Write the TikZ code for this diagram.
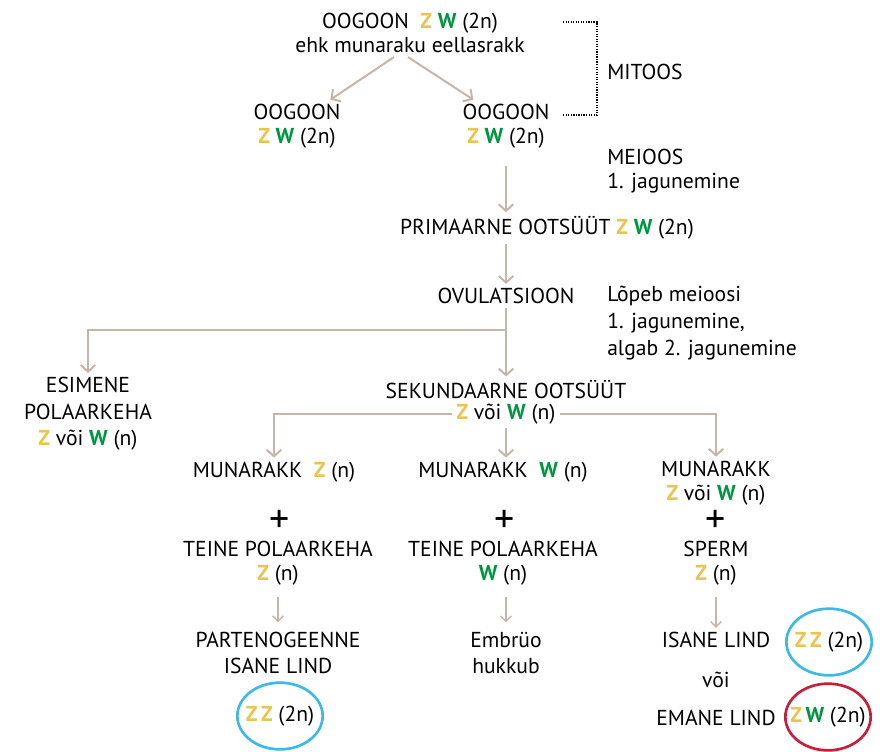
\documentclass[tikz,border=0pt]{standalone}
\usepackage{fontspec}
\setmainfont{PT Sans}
\usetikzlibrary{arrows.meta,shapes.geometric}

\definecolor{zcol}{RGB}{233,197,80}
\definecolor{wcol}{RGB}{0,150,65}
\definecolor{arrowcol}{RGB}{196,182,170}
\definecolor{bluering}{RGB}{60,185,230}
\definecolor{redring}{RGB}{200,30,55}
\newcommand{\Zc}{\textcolor{zcol}{\textbf{Z}}}
\newcommand{\Wc}{\textcolor{wcol}{\textbf{W}}}

\tikzset{
  txt/.style={inner sep=3pt, align=center, font=\fontsize{16.2}{18}\selectfont},
  side/.style={txt, anchor=west, align=left},
  plussign/.style={inner sep=1pt, font=\fontsize{30}{30}\selectfont},
  flow/.style={draw=arrowcol, line width=1.5pt, -{Straight Barb[length=5pt,width=11pt]}},
  smallflow/.style={draw=arrowcol, line width=1.1pt, -{Straight Barb[length=4pt,width=8pt]}},
  ring/.style={ellipse, line width=2pt, inner xsep=-10pt, inner ysep=0pt, minimum width=64pt, minimum height=50pt, font=\fontsize{16.2}{18}\selectfont},
}

\begin{document}
\begin{tikzpicture}[x=0.75pt,y=0.75pt,yscale=-1,xscale=1]
    \useasboundingbox (0,0) rectangle (880,751);

    % Mitoos
    \node[txt] (top) at (410,33) {OOGOON\ \ \Zc\ \Wc\ (2n)\\ehk munaraku eellasrakk};
    \node[txt] (oogL) at (297,126) {OOGOON\\\Zc\ \Wc\ (2n)};
    \node[txt] (oogR) at (506,126) {OOGOON\\\Zc\ \Wc\ (2n)};
    \draw[flow] ([xshift=-12pt]top.south) -- ([xshift=25pt]oogL.north);
    \draw[flow] ([xshift=-1.5pt]top.south) -- ([xshift=-24.5pt]oogR.north);

    \coordinate (mitA) at (563,22);
    \coordinate (mitB) at (563,115);
    \draw[densely dotted, line width=0.9pt] (mitA) -- ++(34,0) |- (mitB);
    \node[side] (mitoos) at (603,72) {MITOOS};

    % Meioos
    \node[side] (meioos) at (603,171) {MEIOOS\\1. jagunemine};
    \node[txt] (prim) at (547,228) {PRIMAARNE OOTSÜÜT \Zc\ \Wc\ (2n)};
    \node[txt] (ovul) at (506,296) {OVULATSIOON};
    \node[side] (lopeb) at (603,323) {Lõpeb meioosi\\[2pt]1. jagunemine,\\[2pt]algab 2. jagunemine};
    \draw[flow, shorten <=10pt] (oogR.south) -- (oogR.south |- prim.north);
    \draw[flow] (prim.south -| ovul.north) -- (ovul.north);

    % Ovulatsioon
    \node[txt] (esim) at (88,414) {ESIMENE\\[2pt]POLAARKEHA\\[2pt]\Zc\ või \Wc\ (n)};
    \node[txt] (sek) at (506,390) {SEKUNDAARNE OOTSÜÜT};
    \node[txt] (sekzw) at (506,414) {\Zc\ või \Wc\ (n)};
    \coordinate (split) at (506,330);
    \draw[flow] (ovul.south) -- (sek.north);
    \draw[flow] (split) -| (esim.north);

    % Teine jagunemine
    \node[txt] (munZ) at (274,472) {MUNARAKK\ \ \Zc\ (n)};
    \node[txt] (munW) at (503,472) {MUNARAKK\ \ \Wc\ (n)};
    \node[txt] (munR) at (716,483) {MUNARAKK\\\Zc\ või \Wc\ (n)};
    \draw[flow] (sekzw.west) -| (munZ.north);
    \draw[flow] (sekzw.east) -| (munR.north);
    \draw[flow] (sekzw.south) -- (sekzw.south |- munW.north);

    \node[plussign] (plusZ) at (280,521) {+};
    \node[plussign] (plusW) at (505,521) {+};
    \node[plussign] (plusR) at (716,521) {+};

    \node[txt] (tpZ) at (278,563) {TEINE POLAARKEHA\\\Zc\ (n)};
    \node[txt] (tpW) at (503,563) {TEINE POLAARKEHA\\\Wc\ (n)};
    \node[txt] (sperm) at (716,563) {SPERM\\\Zc\ (n)};

    % Tulemus
    \node[txt] (part) at (278,653) {PARTENOGEENNE\\[2pt]ISANE LIND};
    \node[txt] (emb) at (506,653) {Embrüo\\[2pt]hukkub};
    \node[txt] (isane) at (716,640) {ISANE LIND};
    \node[txt] (voi) at (716,680) {või};
    \node[txt] (emane) at (716,718) {EMANE LIND};
    \draw[smallflow, shorten <=6pt, shorten >=4pt] (tpZ.south) -- (part.north);
    \draw[smallflow, shorten <=6pt, shorten >=4pt] (tpW.south -| emb.north) -- (emb.north);
    \draw[smallflow, shorten <=6pt] (sperm.south) -- (isane.north);

    \node[ring, draw=bluering] (zzL) at (280,716) {\Zc\,\Zc\ (2n)};
    \node[ring, draw=bluering] (zzR) at (829,642) {\Zc\,\Zc\ (2n)};
    \node[ring, draw=redring] (zwR) at (828,717) {\Zc\,\Wc\ (2n)};
\end{tikzpicture}
\end{document}
